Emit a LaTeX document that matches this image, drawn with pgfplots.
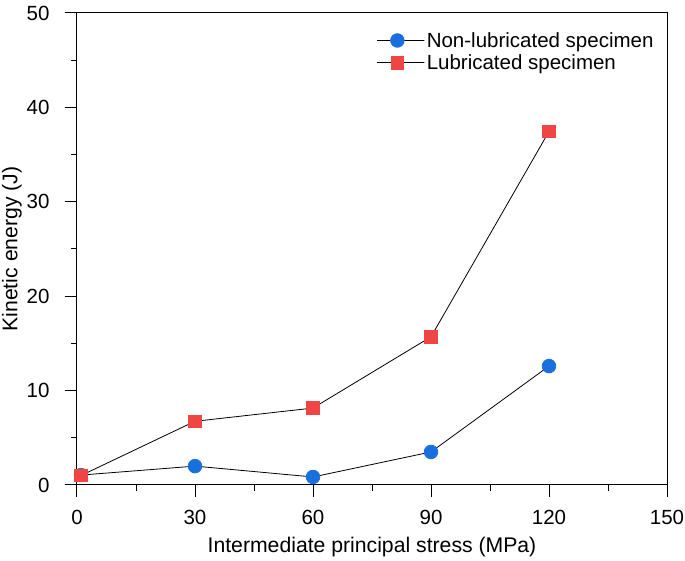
\documentclass[border=0pt]{standalone}
\usepackage{pgfplots}
\pgfplotsset{compat=1.18}
\usepackage{fontspec}
\setmainfont{Liberation Sans}
\definecolor{myblue}{HTML}{1A6FDF}
\definecolor{myred}{HTML}{F04545}
\begin{document}
\begin{tikzpicture}
\path[use as bounding box] (-77pt,-76pt) rectangle (608pt,485pt);
\begin{axis}[
  at={(0pt,0pt)}, anchor=south west,
  scale only axis,
  width=590pt, height=472pt,
  xmin=0, xmax=150, ymin=0, ymax=50,
  xtick={0,30,60,90,120,150},
  ytick={0,10,20,30,40,50},
  minor x tick num=1, minor y tick num=1,
  tick align=outside,
  xtick pos=bottom, ytick pos=left,
  major tick length=12pt, minor tick length=6pt,
  tick style={black, line width=1pt},
  axis line style={line width=1pt},
  /pgf/number format/assume math mode=true,
  tick label style={font=\fontsize{20.5}{24}\selectfont},
  xticklabel shift=10pt, yticklabel shift=12pt,
  label style={font=\fontsize{21.2}{25}\selectfont},
  xlabel={Intermediate principal stress (MPa)},
  ylabel={Kinetic energy (J)},
  xlabel style={at={(axis description cs:0.5,0)}, anchor=base, yshift=-68pt},
  ylabel style={at={(axis description cs:0,0.5)}, anchor=center, yshift=65pt},
  clip=false,
  legend style={draw=none, fill=none, at={(0.503,0.968)}, anchor=north west,
    font=\fontsize{20.5}{24}\selectfont, row sep=2pt,
    legend cell align=left},
  legend image code/.code={\path (0pt,0pt) rectangle (47pt,0pt);\draw[mark repeat=2,mark phase=2] plot coordinates {(0pt,0pt)(20pt,0pt)(40pt,0pt)};},
]
\addplot[black, line width=0.8pt, mark=*, mark size=6.8pt,
  mark options={draw=myblue, fill=myblue}]
  coordinates {(1,1.05) (30,2.0) (60,0.85) (90,3.5) (120,12.6)};
\addlegendentry{Non-lubricated specimen}
\addplot[black, line width=0.8pt, mark=square*, mark size=6.3pt,
  mark options={draw=myred, fill=myred}]
  coordinates {(1,1.0) (30,6.75) (60,8.15) (90,15.7) (120,37.45)};
\addlegendentry{Lubricated specimen}
\end{axis}
\end{tikzpicture}
\end{document}
